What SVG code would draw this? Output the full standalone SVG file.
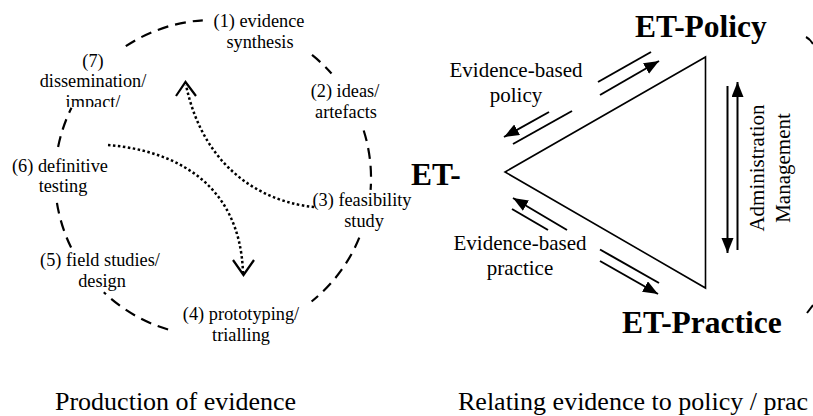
<svg xmlns="http://www.w3.org/2000/svg" width="813" height="416" viewBox="0 0 813 416">
<defs>
<style>
.lbl{font-family:"Liberation Serif","Times New Roman",serif;font-size:18.3px;fill:#000;text-anchor:middle}
.big{font-family:"Liberation Serif","Times New Roman",serif;font-weight:bold;font-size:31.5px;fill:#000}
.mid{font-family:"Liberation Serif","Times New Roman",serif;font-size:21px;fill:#000;text-anchor:middle}
.cap{font-family:"Liberation Serif","Times New Roman",serif;font-size:26px;fill:#000}
.dash{fill:none;stroke:#000;stroke-width:2.2;stroke-dasharray:11 7}
.dot{fill:none;stroke:#000;stroke-width:2.5;stroke-dasharray:2.5 2.5}
.chev{fill:none;stroke:#000;stroke-width:2.2}
.ln{fill:none;stroke:#000;stroke-width:2}
.arr{fill:none;stroke:#000;stroke-width:2;marker-end:url(#ah)}
.tri{fill:none;stroke:#000;stroke-width:1.6;stroke-linejoin:miter}
</style>
<marker id="ah" markerUnits="userSpaceOnUse" markerWidth="16" markerHeight="13" refX="15" refY="6" orient="auto"><path d="M0,0 L15,6 L0,12 z" fill="#000"/></marker>
<clipPath id="clipImpact"><rect x="0" y="0" width="200" height="107"/></clipPath>
</defs>
<rect width="813" height="416" fill="#fff"/>

<g id="connectors">
  <!-- dashed cycle arcs -->
  <path class="dash" d="M125.8,46.2 A158,158 0 0 1 202.8,20.3"/>
  <path class="dash" d="M312,54.9 A158,158 0 0 1 331.5,73.5"/>
  <path class="dash" d="M363.7,130.5 A158,158 0 0 1 370.6,189.8"/>
  <path class="dash" d="M359.3,237.7 A158,158 0 0 1 311.6,301.5"/>
  <path class="dash" d="M168.1,329.5 A158,158 0 0 1 103.8,292.2"/>
  <path class="dash" d="M71.1,247.5 A158,158 0 0 1 56.8,201.9"/>
  <path class="dash" d="M58.1,147 A158,158 0 0 1 71.5,107.8"/>
  <!-- dotted arrows -->
  <path class="dot" d="M314,207 C270,203 205,175 186,85"/>
  <path class="chev" d="M176,96 L185.5,82 L196,96"/>
  <path class="dot" d="M108,145 C170,150 240,180 243,273"/>
  <path class="chev" d="M233,260 L243.5,275 L254,260"/>
  <!-- triangle -->
  <path class="tri" d="M705.5,57 L505,172 L705.5,288 Z"/>
  <!-- parallel arrows: evidence-based policy -->
  <path class="ln" d="M598,82 L651,52"/>
  <path class="arr" d="M600,95 L659,61"/>
  <path class="arr" d="M549,112 L504,137"/>
  <path class="ln" d="M513,144 L572,111"/>
  <!-- parallel arrows: evidence-based practice -->
  <path class="arr" d="M567,230 L513,198"/>
  <path class="ln" d="M512,209 L548,230"/>
  <path class="ln" d="M600,249.5 L659,283"/>
  <path class="arr" d="M600,261 L658,294"/>
  <!-- vertical administration / management arrows -->
  <path class="arr" d="M727.5,86 L727.5,253"/>
  <path class="arr" d="M737.5,250 L737.5,82"/>
  <!-- fragments at right edge -->
  <path class="ln" d="M806,37 Q810,39 813,44"/>
  <path class="ln" d="M807,313 Q810,309 813,305"/>
</g>

<g id="stage1"><text class="lbl" x="259" y="27">(1) evidence</text><text class="lbl" x="260" y="47.5">synthesis</text></g>
<g id="stage2"><text class="lbl" x="345" y="97">(2) ideas/</text><text class="lbl" x="346" y="117.5">artefacts</text></g>
<g id="stage3"><text class="lbl" x="362" y="206">(3) feasibility</text><text class="lbl" x="364" y="226.5">study</text></g>
<g id="stage4"><text class="lbl" x="241" y="320">(4) prototyping/</text><text class="lbl" x="241" y="340.5">trialling</text></g>
<g id="stage5"><text class="lbl" x="100" y="266">(5) field studies/</text><text class="lbl" x="102" y="286.5">design</text></g>
<g id="stage6"><text class="lbl" x="60" y="171.5">(6) definitive</text><text class="lbl" x="63" y="192">testing</text></g>
<g id="stage7"><text class="lbl" x="93" y="66.5">(7)</text><text class="lbl" x="93" y="87">dissemination/</text><text class="lbl" x="93" y="108" clip-path="url(#clipImpact)">impact/</text></g>

<g id="et-policy"><text class="big" x="635" y="37">ET-Policy</text></g>
<g id="et-practice"><text class="big" x="622" y="333">ET-Practice</text></g>
<g id="et-left"><text class="big" x="411" y="185">ET-</text></g>

<g id="label-policy"><text class="mid" x="516" y="77">Evidence-based</text><text class="mid" x="516" y="102">policy</text></g>
<g id="label-practice"><text class="mid" x="520" y="250">Evidence-based</text><text class="mid" x="520" y="275">practice</text></g>
<g id="label-admin">
  <text class="mid" transform="translate(764,168) rotate(-90)">Administration</text>
  <text class="mid" transform="translate(790,168) rotate(-90)">Management</text>
</g>

<g id="captions">
  <text class="cap" x="55" y="410">Production of evidence</text>
  <text class="cap" x="458" y="410">Relating evidence to policy / prac</text>
</g>
</svg>
